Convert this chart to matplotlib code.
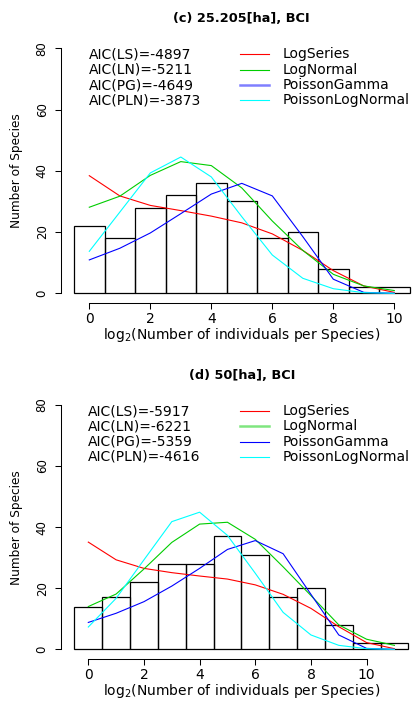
import numpy as np
import matplotlib
matplotlib.use('Agg')
import matplotlib.pyplot as plt
from matplotlib.transforms import blended_transform_factory

# histogram counts per log2 abundance class
counts_c = [22, 18, 28, 32, 36, 30, 18, 20, 8, 2, 2]
counts_d = [14, 17, 22, 28, 28, 37, 31, 17, 20, 8, 2, 2]

# fitted curves, panel (c)
ls_c = [38.4, 31.8, 28.7, 27.0, 25.2, 23.0, 19.4, 14.0, 7.4, 2.4, 0.3]
ln_c = [28.1, 31.7, 38.5, 43.0, 41.7, 34.4, 23.6, 14.0, 6.2, 2.4, 0.9]
pg_c = [10.9, 14.7, 19.7, 26.0, 32.4, 35.9, 31.8, 18.5, 4.6, 0.3, 0.0]
pln_c = [13.7, 26.5, 39.3, 44.5, 38.0, 25.0, 12.5, 4.9, 1.5, 0.2, 0.0]

# fitted curves, panel (d)
ls_d = [35.1, 29.3, 26.5, 25.1, 24.0, 23.0, 21.1, 18.0, 13.4, 7.4, 2.2, 0.2]
ln_d = [14.0, 18.1, 26.3, 35.0, 41.0, 41.6, 36.0, 27.0, 17.6, 8.0, 3.3, 1.3]
pg_d = [8.8, 11.8, 15.6, 20.7, 26.5, 32.7, 35.6, 31.3, 18.0, 4.7, 0.3, 0.0]
pln_d = [7.3, 16.7, 29.3, 41.8, 44.9, 37.3, 24.9, 12.1, 4.7, 1.3, 0.2, 0.0]

titles = ['(c) 25.205[ha], BCI', '(d) 50[ha], BCI']
aic_c = ['AIC(LS)=-4897', 'AIC(LN)=-5211', 'AIC(PG)=-4649', 'AIC(PLN)=-3873']
aic_d = ['AIC(LS)=-5917', 'AIC(LN)=-6221', 'AIC(PG)=-5359', 'AIC(PLN)=-4616']
models = ['LogSeries', 'LogNormal', 'PoissonGamma', 'PoissonLogNormal']
colors = ['#FF0000', '#00CD00', '#0000FF', '#00FFFF']

W, H = 416, 702
fig = plt.figure(figsize=(W/100, H/100), dpi=100)
plt.rcParams['font.family'] = ['DejaVu Sans']

panels = [
    dict(counts=counts_c, curves=[ls_c, ln_c, pg_c, pln_c], aic=aic_c, title=titles[0],
         box=(60.5, 38.5, 416, 303), xlim=(-0.944, 10.711), ylim=(-3.17, 83.2),
         title_y=18.5, thick=2),
    dict(counts=counts_d, curves=[ls_d, ln_d, pg_d, pln_d], aic=aic_d, title=titles[1],
         box=(60.5, 395.2, 416, 659.3), xlim=(-0.999, 11.775), ylim=(-3.27, 83.2),
         title_y=375.5, thick=1),
]

rows = [78, 73, 68, 63]

for p in panels:
    x0, y0, x1, y1 = p['box']
    ax = fig.add_axes([x0/W, 1 - y1/H, (x1 - x0)/W, (y1 - y0)/H])
    ax.set_xlim(*p['xlim'])
    ax.set_ylim(*p['ylim'])

    bins = np.arange(len(p['counts']))
    ax.bar(bins, p['counts'], width=1.0, fill=False, edgecolor='black', linewidth=0.9, zorder=1)
    for vals, c in zip(p['curves'], colors):
        ax.plot(np.arange(len(vals)), vals, color=c, linewidth=0.8, zorder=2)

    # axes like R: open box, ranged spines
    for s in ['top', 'right']:
        ax.spines[s].set_visible(False)
    ax.spines['left'].set_bounds(0, 80)
    ax.spines['bottom'].set_bounds(0, 10)
    ax.spines['left'].set_linewidth(0.75)
    ax.spines['bottom'].set_linewidth(0.75)
    ax.set_xticks(range(0, 11, 2))
    ax.set_yticks(range(0, 81, 20))
    ax.tick_params(axis='both', direction='out', length=4, width=0.75)
    ax.tick_params(axis='x', labelsize=10, pad=2.5)
    ax.tick_params(axis='y', labelsize=8.5, labelrotation=90, pad=4.5)
    for lab in ax.get_yticklabels():
        lab.set_va('center')

    ax.set_xlabel('log$_2$(Number of individuals per Species)', fontsize=10, va='center')
    ax.xaxis.set_label_coords((241.7 - x0)/(x1 - x0), -32.0/(y1 - y0))
    ax.set_ylabel('Number of Species', fontsize=8.7, va='center')
    ax.yaxis.set_label_coords((16.7 - x0)/(x1 - x0), 0.5)

    fig.text(241.7/W, 1 - p['title_y']/H, p['title'], fontsize=9.3, fontweight='bold',
             ha='center', va='center')

    # AIC values and legend
    tr = blended_transform_factory(ax.transAxes, ax.transData)
    for i, (txt, lab, c) in enumerate(zip(p['aic'], models, colors)):
        ax.text(0, rows[i], txt, fontsize=10, ha='left', va='center')
        if i == p['thick']:
            ax.plot([0.505, 0.5865], [rows[i], rows[i]], color=c, linewidth=1.8,
                    alpha=0.5, transform=tr, clip_on=False)
        else:
            ax.plot([0.505, 0.5865], [rows[i], rows[i]], color=c, linewidth=0.8,
                    transform=tr, clip_on=False)
        ax.text(0.625, rows[i], lab, fontsize=10, ha='left', va='center', transform=tr)

fig.savefig('out.png', dpi=100)
